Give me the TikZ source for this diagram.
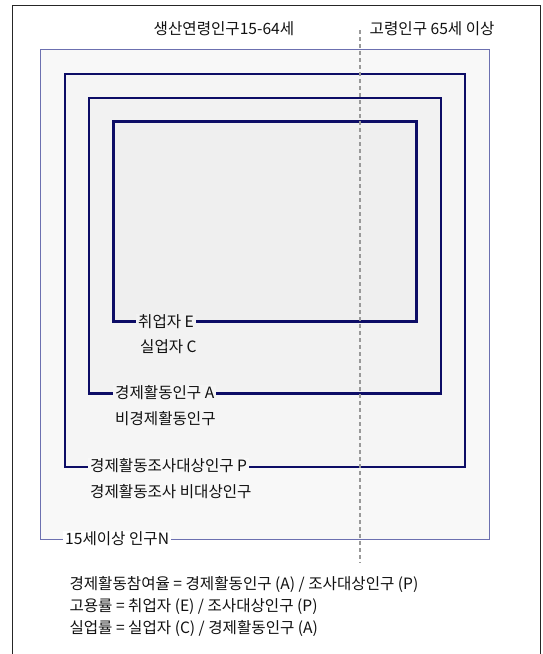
\documentclass[tikz,border=0pt]{standalone}
\usepackage{fontspec}
\setmainfont{Noto Sans CJK KR}
\usetikzlibrary{positioning}
\definecolor{navy}{HTML}{0D0D66}
\definecolor{nblue}{HTML}{6C70B0}
\definecolor{fillN}{HTML}{F8F8F8}
\definecolor{fillP}{HTML}{F5F5F5}
\definecolor{fillA}{HTML}{F2F2F2}
\definecolor{fillE}{HTML}{EFEFEF}
\definecolor{txt}{HTML}{111111}
\tikzset{
  lbl/.style={anchor=west, inner xsep=2pt, inner ysep=1pt, text=txt, font=\fontsize{15.6}{18}\selectfont},
  boxN/.style={draw=nblue, line width=1pt, fill=fillN, inner sep=0pt},
  boxP/.style={draw=navy, line width=2pt, fill=fillP, inner sep=0pt},
  boxA/.style={draw=navy, line width=2.4pt, fill=fillA, inner sep=0pt},
  boxE/.style={draw=navy, line width=2.8pt, fill=fillE, inner sep=0pt},
  agedash/.style={draw=gray!80, line width=1.1pt, dash pattern=on 4pt off 3pt},
  frameline/.style={draw=black!85, line width=1.3pt}
}
\begin{document}
\begin{tikzpicture}[x=1pt,y=-1pt]
\useasboundingbox (0,0) rectangle (542,654);
% outer frame (open at bottom)
\coordinate (fbl) at (12.5,654);
\coordinate (ftl) at (12.5,5.5);
\coordinate (ftr) at (540.8,5.5);
\coordinate (fbr) at (540.8,654);
\draw[frameline] (fbl) -- (ftl) -- (ftr) -- (fbr);
% nested boxes
\node[boxN, minimum width=449.5pt, minimum height=489.8pt] (N) at (265.05,294.6) {};
\node[boxP, minimum width=400.5pt, minimum height=393pt] (P) at (265,270.2) {};
\node[boxA, minimum width=351.5pt, minimum height=295.8pt] (A) at (265,245.6) {};
\node[boxE, minimum width=303pt, minimum height=200pt] (E) at (264.6,221.7) {};
% age divider
\coordinate (d1) at (360,30);
\coordinate (d2) at (360,563);
\draw[agedash] (d1) -- (d2);
% top labels
\node[lbl, fill=white] (work) at (151.5,29) {생산연령인구15-64세};
\node[lbl, fill=white] (old) at (367.5,29) {고령인구 65세 이상};
% labels on boxes
\node[lbl, fill=fillA] (lE) at (136,321.7) {취업자 E};
\node[lbl] (lC) at (138,346.7) {실업자 C};
\node[lbl, fill=fillP] (lA) at (113,392.9) {경제활동인구 A};
\node[lbl] (lNA) at (113,418.3) {비경제활동인구};
\node[lbl, fill=fillN] (lP) at (88,465.9) {경제활동조사대상인구 P};
\node[lbl] (lNP) at (88,491.7) {경제활동조사 비대상인구};
\node[lbl, fill=white] (lN) at (63,538.8) {15세이상 인구N};
% formulas
\node[lbl] (f1) at (67.3,585) {경제활동참여율 = 경제활동인구 (A) / 조사대상인구 (P)};
\node[lbl] (f2) at (67.3,606.7) {고용률 = 취업자 (E) / 조사대상인구 (P)};
\node[lbl] (f3) at (67.3,628.3) {실업률 = 실업자 (C) / 경제활동인구 (A)};
\end{tikzpicture}
\end{document}
